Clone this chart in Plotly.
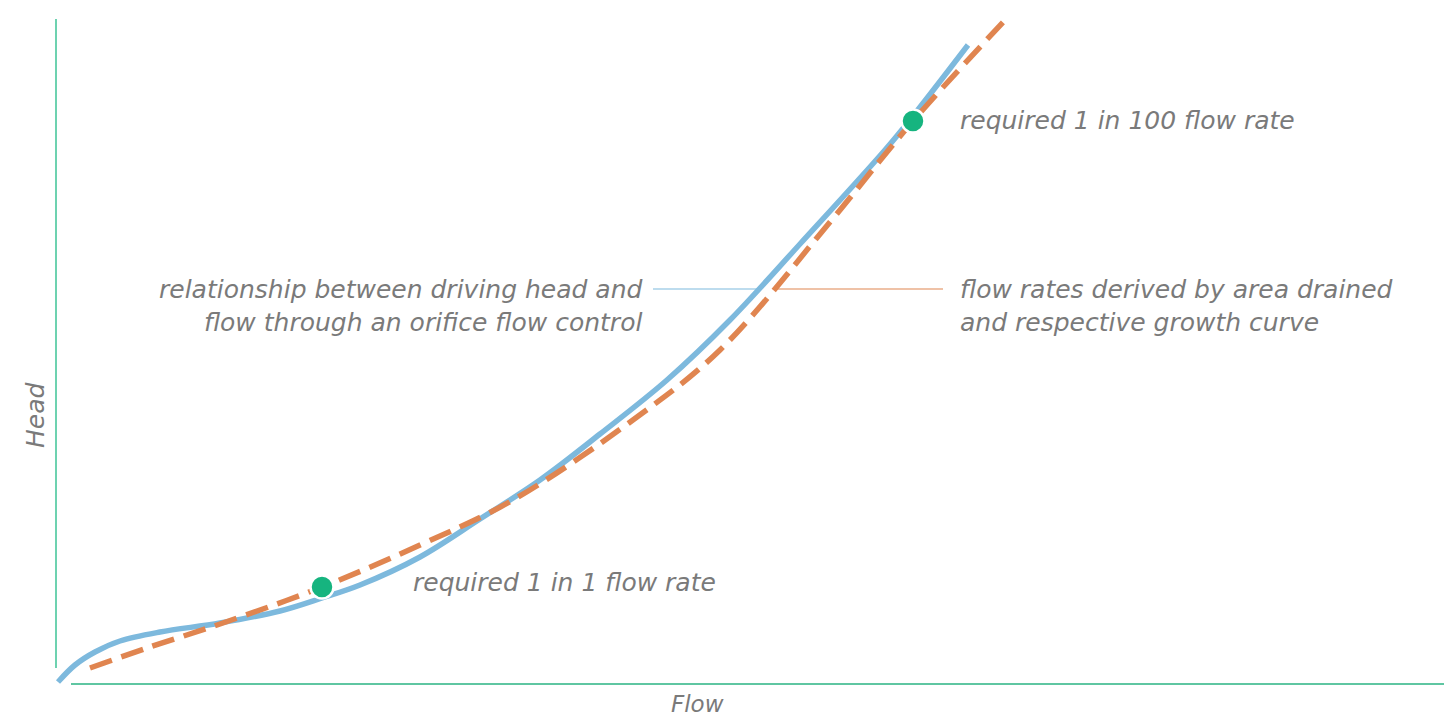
import plotly.graph_objects as go

# Values (arbitrary flow / head units)
orifice_flow = [1, 18, 38, 63, 103, 163, 223, 265, 303, 363, 423, 483, 543,
                610, 673, 743, 828, 856, 911]
orifice_head = [2, 19, 32, 43, 52, 61, 73, 86, 99, 127, 165, 204, 250,
                304, 364, 440, 534, 568, 639]

growth_flow = [33, 93, 163, 265, 363, 456, 580, 663, 773, 856, 950]
growth_head = [16, 37, 60, 97, 139, 184, 267, 334, 462, 563, 666]

point_flow = [265, 856]
point_head = [97, 563]
point_labels = ["required 1 in 1 flow rate", "required 1 in 100 flow rate"]

left_label = "relationship between driving head and<br>flow through an orifice flow control"
right_label = "flow rates derived by area drained<br>and respective growth curve"

BLUE = "#7db9dd"
ORANGE = "#e08550"
GREEN = "#16b47f"
AXIS = "#6dd2b0"
TEXT = "#7a7a7a"
FONT = "DejaVu Sans"

fig = go.Figure()
fig.add_trace(go.Scatter(x=orifice_flow, y=orifice_head, mode="lines",
                         line=dict(color=BLUE, width=5.5, shape="spline", smoothing=1.0),
                         hoverinfo="skip", showlegend=False))
fig.add_trace(go.Scatter(x=growth_flow, y=growth_head, mode="lines",
                         line=dict(color=ORANGE, width=5.5, shape="spline", smoothing=1.0,
                                   dash="23px,10px"),
                         hoverinfo="skip", showlegend=False))
fig.add_trace(go.Scatter(x=point_flow, y=point_head, mode="markers",
                         marker=dict(color=GREEN, size=23, line=dict(color="white", width=2.5)),
                         hoverinfo="skip", showlegend=False))

font = dict(family=FONT, size=25, color=TEXT, style="italic", weight=200)
axis_font = dict(family=FONT, size=23, color=TEXT, style="italic", weight=200)

# axis lines
fig.add_shape(type="line", x0=-1, x1=-1, y0=16, y1=665,
              line=dict(color=AXIS, width=2), layer="below")
fig.add_shape(type="line", x0=14, x1=1395, y0=0, y1=0,
              line=dict(color="#5fc6a2", width=2), layer="below")

# leader lines
fig.add_shape(type="line", x0=596, x1=703, y0=395, y1=395,
              line=dict(color=BLUE, width=1.2), layer="below")
fig.add_shape(type="line", x0=720, x1=886, y0=395, y1=395,
              line=dict(color=ORANGE, width=1.2), layer="below")

fig.add_annotation(x=588, y=378, xref="x", yref="y", text=left_label, showarrow=False,
                   xanchor="right", yanchor="middle", align="right", font=font)
fig.add_annotation(x=901, y=378, xref="x", yref="y", text=right_label, showarrow=False,
                   xanchor="left", yanchor="middle", align="left", font=font)
fig.add_annotation(x=354, y=102, xref="x", yref="y", text=point_labels[0], showarrow=False,
                   xanchor="left", yanchor="middle", font=font)
fig.add_annotation(x=901, y=564, xref="x", yref="y", text=point_labels[1], showarrow=False,
                   xanchor="left", yanchor="middle", font=font)

fig.add_annotation(x=640, y=-20, xref="x", yref="y", text="Flow", showarrow=False,
                   xanchor="center", yanchor="middle", font=axis_font)
fig.add_annotation(x=-22, y=269, xref="x", yref="y", text="Head", showarrow=False,
                   textangle=-90, xanchor="center", yanchor="middle", font=font)

# ranges offset to compensate for the page's default 8px body margin
fig.update_layout(
    width=1452, height=719,
    margin=dict(l=0, r=0, t=0, b=0),
    paper_bgcolor="white", plot_bgcolor="white",
    xaxis=dict(range=[-49, 1403], visible=False, fixedrange=True),
    yaxis=dict(range=[-43, 676], visible=False, fixedrange=True),
)

fig.write_html("out.html")
